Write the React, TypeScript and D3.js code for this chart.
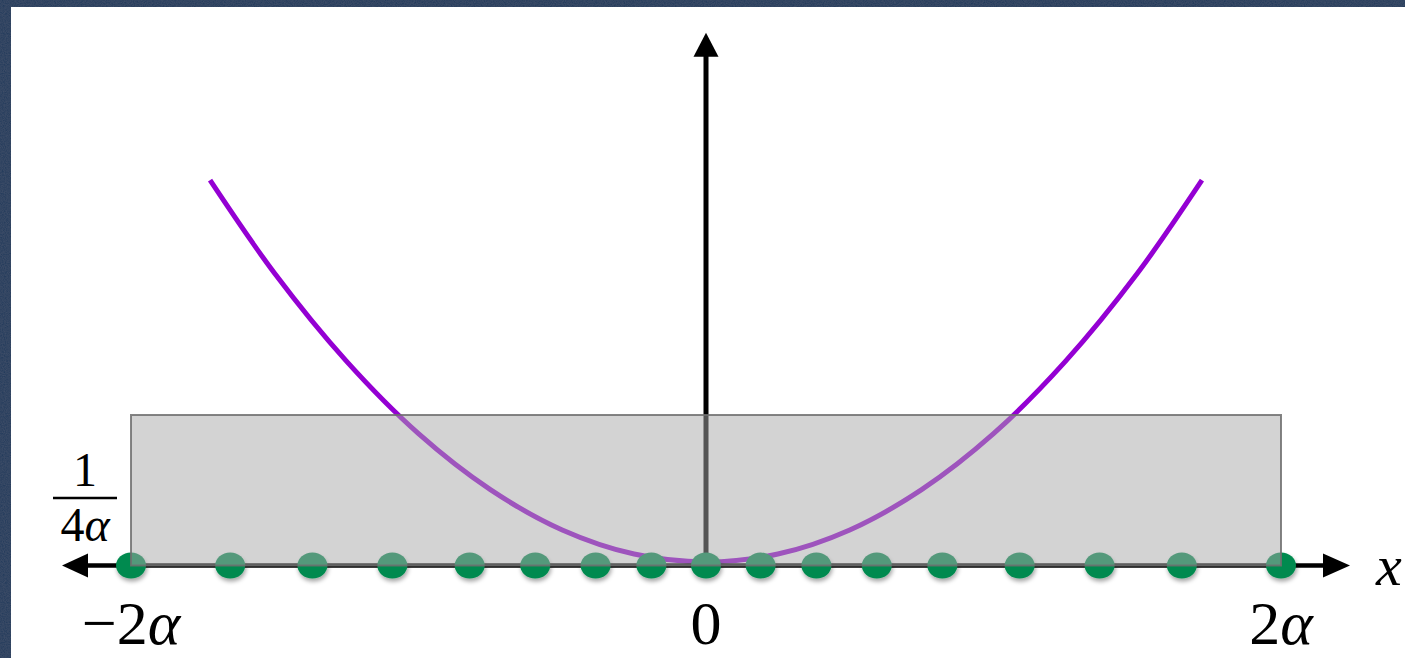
import React from "react";
import * as d3 from "d3";

// Sample points (in units of α) where the green markers sit on the x axis
const nodePositions = [
  -2.0, -1.655, -1.369, -1.091, -0.822, -0.594, -0.384, -0.19, 0,
  0.19, 0.384, 0.594, 0.822, 1.091, 1.369, 1.655, 2.0,
];

// Purple curve, read as (x, y) pairs
const curveX = [-1.725, -1.5, -1.25, -1.0, -0.75, -0.5, -0.25, 0, 0.25, 0.5, 0.75, 1.0, 1.25, 1.5, 1.725];
const curveY = [0.64, 0.485, 0.339, 0.219, 0.126, 0.059, 0.019, 0.006, 0.019, 0.059, 0.126, 0.219, 0.339, 0.485, 0.64];

// Uniform box: spans [-2α, 2α] with height 1/(4α)
const boxExtent = [-2, 2];
const boxHeight = 0.25;

// Axis extents
const xAxisExtent = [-2.24, 2.24];
const yAxisTop = 0.885;

const tickLabels = [
  { value: -2, text: "−2", alpha: true },
  { value: 0, text: "0", alpha: false },
  { value: 2, text: "2", alpha: true },
];

const W = 1405;
const H = 658;

export default function App() {
  const x = d3.scaleLinear().domain([-2, 2]).range([131, 1281]);
  const y = d3.scaleLinear().domain([0, 0.25]).range([565.5, 415]);

  const curvePts: [number, number][] = curveX.map((v, i) => [x(v), y(curveY[i])]);
  const curvePath = d3.line().curve(d3.curveCatmullRom.alpha(0.5))(curvePts) || "";

  const x0 = x(0);
  const y0 = y(0);
  const xl = x(xAxisExtent[0]);
  const xr = x(xAxisExtent[1]);
  const yt = y(yAxisTop);

  const serif = "'Liberation Serif', 'DejaVu Serif', serif";

  return (
    <div style={{ position: "absolute", left: 0, top: 0, width: W, height: H }}>
      <svg width={W} height={H} style={{ display: "block" }}>
        <defs>
          <filter id="grain" x="0" y="0" width="100%" height="100%">
            <feTurbulence type="fractalNoise" baseFrequency="0.9" numOctaves="2" seed="3" result="n" />
            <feColorMatrix in="n" type="matrix"
              values="0 0 0 0 1  0 0 0 0 1  0 0 0 0 1  0 0 0 0.04 0" result="w" />
            <feComposite in="w" in2="SourceGraphic" operator="in" result="c" />
            <feMerge>
              <feMergeNode in="SourceGraphic" />
              <feMergeNode in="c" />
            </feMerge>
          </filter>
          <filter id="dotShadow" x="-50%" y="-50%" width="200%" height="200%">
            <feDropShadow dx="1" dy="3" stdDeviation="2" floodColor="#000" floodOpacity="0.35" />
          </filter>
          <filter id="soft" x="-5%" y="-5%" width="110%" height="110%">
            <feGaussianBlur stdDeviation="0.6" />
          </filter>
        </defs>

        {/* frame */}
        <rect x={0} y={0} width={W} height={H} fill="#233a5c" filter="url(#grain)" />
        <rect x={11} y={7} width={W - 11} height={H - 7} fill="#ffffff" />

        {/* purple curve */}
        <path d={curvePath} fill="none" stroke="#9400d3" strokeWidth={5} filter="url(#soft)" />

        {/* vertical axis */}
        <line x1={x0} x2={x0} y1={y0} y2={yt + 20} stroke="#000" strokeWidth={5} />
        <polygon points={`${x0},${yt} ${x0 - 12.5},${yt + 24} ${x0 + 12.5},${yt + 24}`} fill="#000" />

        {/* horizontal axis */}
        <line x1={xl + 20} x2={xr - 20} y1={y0} y2={y0} stroke="#000" strokeWidth={4.5} />
        <polygon points={`${xl},${y0} ${xl + 26},${y0 - 12} ${xl + 26},${y0 + 12}`} fill="#000" />
        <polygon points={`${xr},${y0} ${xr - 27},${y0 - 12} ${xr - 27},${y0 + 12}`} fill="#000" />

        {/* sample points */}
        <g filter="url(#dotShadow)">
          {nodePositions.map((v, i) => (
            <ellipse key={i} cx={x(v)} cy={y0} rx={15} ry={13} fill="#008a4f" />
          ))}
        </g>

        {/* uniform box */}
        <rect
          x={x(boxExtent[0])}
          y={y(boxHeight)}
          width={x(boxExtent[1]) - x(boxExtent[0])}
          height={y(0) - y(boxHeight)}
          fill="rgb(168,168,168)"
          fillOpacity={0.5}
          stroke="#6e6e6e"
          strokeOpacity={0.85}
          strokeWidth={2}
        />

        {/* height label 1/(4α) */}
        <g fontFamily={serif} fill="#000" textAnchor="middle">
          <text x={85} y={486} fontSize={48}>1</text>
          <line x1={53} x2={117} y1={498} y2={498} stroke="#000" strokeWidth={2.5} />
          <text x={85} y={541} fontSize={48}>
            4<tspan fontStyle="italic">α</tspan>
          </text>
        </g>

        {/* tick labels */}
        <g fontFamily={serif} fill="#000" fontSize={62} textAnchor="middle">
          {tickLabels.map((t) => (
            <text key={t.value} x={x(t.value)} y={644}>
              {t.text}
              {t.alpha ? <tspan fontStyle="italic">α</tspan> : null}
            </text>
          ))}
        </g>

        {/* axis name */}
        <text x={1376} y={585} fontFamily={serif} fontStyle="italic" fontSize={58} fill="#000">x</text>
      </svg>
    </div>
  );
}
